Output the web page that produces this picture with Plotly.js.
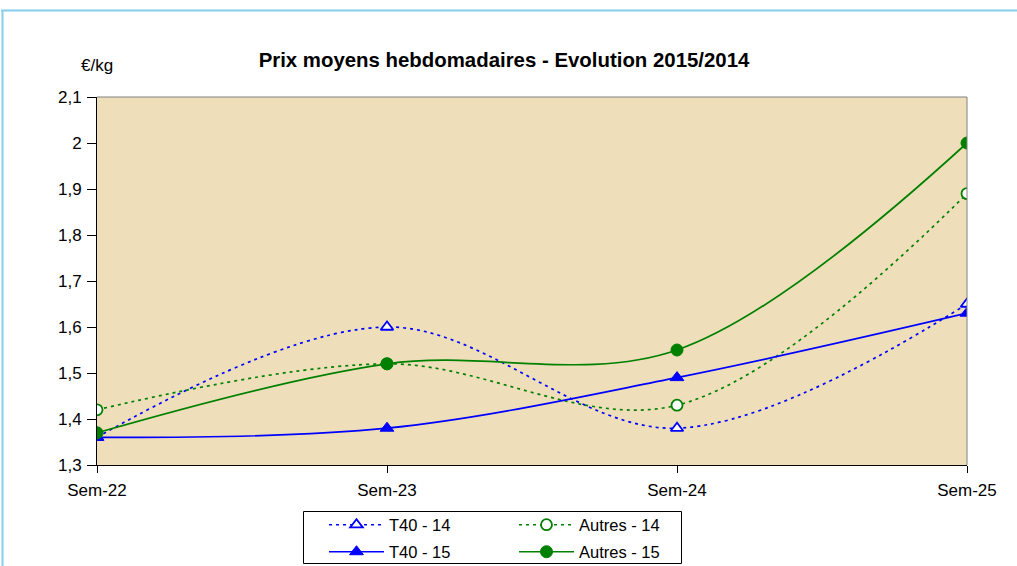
<!DOCTYPE html>
<html>
<head>
<meta charset="utf-8">
<script src="https://cdn.plot.ly/plotly-3.0.1.min.js"></script>
<style>html,body{margin:0;padding:0;background:#fff;}#chart{width:1017px;height:566px;}</style>
</head>
<body>
<div id="chart"></div>
<script>
const categories = ["Sem-22", "Sem-23", "Sem-24", "Sem-25"];
const t40_14 = [1.36, 1.60, 1.38, 1.65];
const autres_14 = [1.42, 1.52, 1.43, 1.89];
const t40_15 = [1.36, 1.38, 1.49, 1.63];
const autres_15 = [1.37, 1.52, 1.55, 2.00];
const yTicks = [1.3, 1.4, 1.5, 1.6, 1.7, 1.8, 1.9, 2.0, 2.1];

const xIdx = categories.map((c, i) => i);
const BLUE = "#0000FF", GREEN = "#008000";
const FONT = "Liberation Sans, Arial, sans-serif";

const traces = [
  {name: "T40 - 14", x: xIdx, y: t40_14, mode: "lines+markers", legend: "legend",
   line: {color: BLUE, width: 1.7, dash: "3px,4px", shape: "spline", smoothing: 1},
   marker: {symbol: "triangle-up", size: 11, color: "#ffffff", line: {color: BLUE, width: 1.8}}},
  {name: "Autres - 14", x: xIdx, y: autres_14, mode: "lines+markers", legend: "legend",
   line: {color: GREEN, width: 1.7, dash: "3px,4px", shape: "spline", smoothing: 1},
   marker: {symbol: "circle", size: 11, color: "#ffffff", line: {color: GREEN, width: 1.8}}},
  {name: "T40 - 15", x: xIdx, y: t40_15, mode: "lines+markers", legend: "legend2",
   line: {color: BLUE, width: 1.7, shape: "spline", smoothing: 1},
   marker: {symbol: "triangle-up", size: 12, color: BLUE, line: {color: BLUE, width: 1}}},
  {name: "Autres - 15", x: xIdx, y: autres_15, mode: "lines+markers", legend: "legend2",
   line: {color: GREEN, width: 1.7, shape: "spline", smoothing: 1},
   marker: {symbol: "circle", size: 12, color: GREEN, line: {color: GREEN, width: 1}}}
];

const L = 97, R = 967, T = 97, B = 465, W = 1017, H = 566;
const px = v => (v - L) / (R - L);
const py = v => (B - v) / (B - T);

const legendBase = {
  orientation: "h", itemwidth: 55, entrywidth: 120, entrywidthmode: "pixels",
  xref: "container", yref: "container", xanchor: "left", yanchor: "middle",
  bgcolor: "rgba(0,0,0,0)", borderwidth: 0,
  font: {size: 16.5, family: FONT}, itemclick: false, itemdoubleclick: false
};

const layout = {
  width: W, height: H,
  margin: {l: L, r: W - R, t: T, b: H - B, pad: 0, autoexpand: false},
  paper_bgcolor: "#ffffff",
  plot_bgcolor: "#EEDFBA",
  separators: ", ",
  font: {family: FONT, size: 17, color: "#000"},
  title: {text: "<b>Prix moyens hebdomadaires - Evolution 2015/2014</b>",
          font: {size: 20.4, family: FONT, color: "#000"},
          x: 504 / W, xanchor: "center", xref: "container", y: 1 - 60 / H, yref: "container", yanchor: "middle"},
  xaxis: {range: [0, 3], tickvals: xIdx, ticktext: categories, showgrid: false, zeroline: false,
          showline: true, linecolor: "#000", linewidth: 1, ticks: "outside", ticklen: 7,
          tickcolor: "#000", tickfont: {size: 17}, ticklabelstandoff: 3, fixedrange: true, automargin: false},
  yaxis: {range: [1.3, 2.1], tickvals: yTicks, showgrid: false, zeroline: false,
          showline: true, linecolor: "#000", linewidth: 1, ticks: "outside", ticklen: 9,
          tickcolor: "#000", tickfont: {size: 17}, ticklabelstandoff: 2, fixedrange: true, automargin: false},
  showlegend: true,
  legend: Object.assign({}, legendBase, {x: 324 / W, y: 1 - 525 / H}),
  legend2: Object.assign({}, legendBase, {x: 324 / W, y: 1 - 552 / H}),
  annotations: [
    {text: "€/kg", xref: "paper", yref: "paper", x: px(97), y: py(66), showarrow: false,
     xanchor: "center", yanchor: "middle", font: {size: 17}}
  ],
  shapes: [
    {type: "line", xref: "paper", yref: "paper", x0: 0, x1: 1, y0: 1, y1: 1, line: {color: "#808080", width: 1}},
    {type: "line", xref: "paper", yref: "paper", x0: 1, x1: 1, y0: 0, y1: 1, line: {color: "#808080", width: 1}},
    {type: "line", xref: "paper", yref: "paper", x0: px(1), x1: px(1017), y0: py(10.5), y1: py(10.5), line: {color: "#87CEEB", width: 2}},
    {type: "line", xref: "paper", yref: "paper", x0: px(2.5), x1: px(2.5), y0: py(10), y1: py(566), line: {color: "#87CEEB", width: 2}},
    {type: "rect", xref: "paper", yref: "paper", x0: px(303.5), x1: px(681.5), y0: py(511.5), y1: py(563.5),
     line: {color: "#000", width: 1}, fillcolor: "#ffffff", layer: "below"}
  ]
};

Plotly.newPlot("chart", traces, layout, {displayModeBar: false, staticPlot: true});
</script>
</body>
</html>
